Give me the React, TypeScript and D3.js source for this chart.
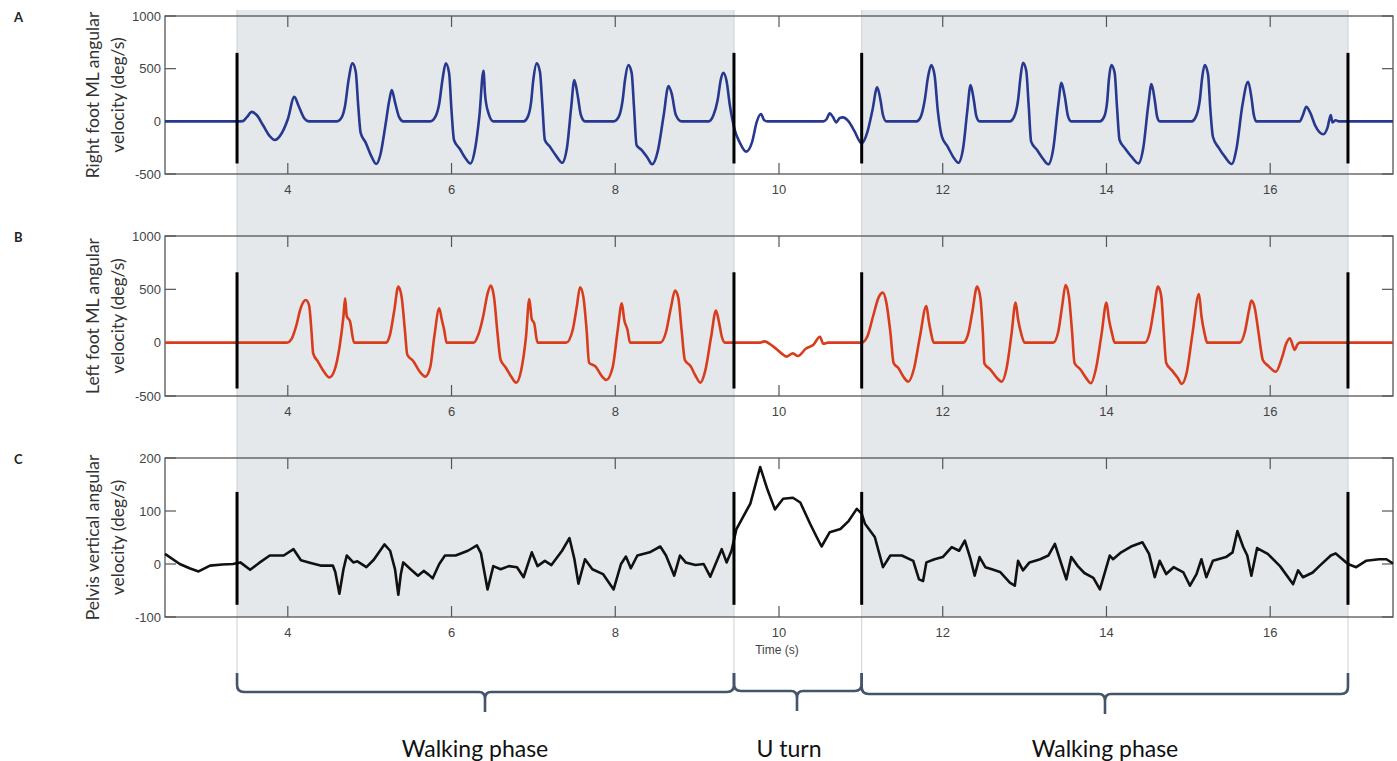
import React from "react";
import * as d3 from "d3";

// time (s), angular velocity (deg/s)
const rightFoot: [number, number][] = [
  [2.5, 0], [3.38, 0], [3.45, 2], [3.5, 40], [3.56, 90], [3.62, 60], [3.7, -40], [3.78, -140], [3.84, -177], [3.92, -120],
  [4.0, 20], [4.08, 233], [4.13, 150], [4.2, 30], [4.26, 0],
  [4.6, 0], [4.66, 40], [4.7, 150], [4.74, 380], [4.79, 550], [4.83, 470], [4.86, 150], [4.89, -110], [4.95, -200], [5.02, -330],
  [5.08, -405], [5.13, -320], [5.19, -50], [5.24, 200], [5.27, 297], [5.31, 180], [5.36, 40], [5.41, 0],
  [5.74, 0], [5.8, 40], [5.85, 170], [5.89, 400], [5.93, 550], [5.97, 460], [6.0, 100], [6.03, -177], [6.1, -260], [6.17, -350],
  [6.23, -400], [6.29, -250], [6.34, 50], [6.39, 480], [6.41, 250], [6.45, 80], [6.51, 0],
  [6.88, 0], [6.93, 40], [6.97, 170], [7.0, 400], [7.04, 550], [7.08, 470], [7.11, 150], [7.14, -177], [7.2, -240], [7.28, -330],
  [7.35, -393], [7.41, -250], [7.46, 120], [7.5, 392], [7.54, 250], [7.58, 60], [7.63, 0],
  [7.98, 0], [8.04, 40], [8.09, 200], [8.12, 400], [8.16, 534], [8.2, 460], [8.23, 120], [8.26, -225], [8.32, -270], [8.39, -340],
  [8.45, -408], [8.52, -280], [8.59, 50], [8.65, 335], [8.69, 260], [8.74, 60], [8.81, 0],
  [9.14, 0], [9.2, 60], [9.25, 200], [9.29, 400], [9.32, 461], [9.36, 380], [9.4, 150], [9.46, -83], [9.52, -200], [9.6, -288],
  [9.67, -200], [9.73, 0], [9.78, 69], [9.82, 10], [9.86, 0],
  [10.54, 0], [10.58, 20], [10.62, 76], [10.66, 40], [10.7, -10], [10.74, 30], [10.78, 38], [10.85, 0], [10.92, -90], [11.01, -209],
  [11.08, -100], [11.14, 100], [11.2, 323], [11.24, 200], [11.27, 60], [11.31, 0],
  [11.68, 0], [11.73, 40], [11.78, 200], [11.82, 420], [11.86, 534], [11.9, 440], [11.94, 100], [11.99, -146], [12.06, -240], [12.13, -340],
  [12.19, -393], [12.25, -250], [12.3, 100], [12.34, 344], [12.38, 200], [12.41, 50], [12.45, 0],
  [12.82, 0], [12.87, 40], [12.92, 200], [12.95, 420], [12.98, 556], [13.02, 480], [13.05, 150], [13.08, -193], [13.15, -270], [13.22, -350],
  [13.29, -408], [13.35, -260], [13.41, 150], [13.45, 366], [13.49, 240], [13.53, 50], [13.57, 0],
  [13.92, 0], [13.97, 40], [14.01, 200], [14.03, 400], [14.06, 534], [14.1, 460], [14.13, 120], [14.16, -177], [14.23, -260], [14.31, -340],
  [14.39, -399], [14.45, -250], [14.51, 150], [14.55, 354], [14.59, 200], [14.62, 40], [14.65, 0],
  [15.04, 0], [15.09, 40], [15.14, 200], [15.17, 420], [15.2, 534], [15.24, 450], [15.27, 100], [15.3, -146], [15.37, -250], [15.45, -340],
  [15.53, -405], [15.59, -250], [15.66, 150], [15.73, 376], [15.77, 230], [15.8, 60], [15.83, 0],
  [16.36, 0], [16.4, 60], [16.44, 139], [16.49, 80], [16.55, -40], [16.65, -123], [16.7, -60], [16.74, 60], [16.76, -10], [16.8, 10],
  [16.84, 0], [17.5, 0],
];

const leftFoot: [number, number][] = [
  [2.5, 0], [3.99, 0], [4.05, 40], [4.1, 150], [4.16, 330], [4.22, 400], [4.26, 350], [4.29, 100], [4.31, -100], [4.37, -180],
  [4.44, -270], [4.51, -325], [4.57, -260], [4.63, -50], [4.68, 250], [4.7, 416], [4.72, 250], [4.76, 200], [4.81, 0],
  [5.2, 0], [5.25, 80], [5.3, 300], [5.35, 525], [5.39, 430], [5.43, 120], [5.46, -113], [5.53, -170], [5.61, -270], [5.68, -318],
  [5.74, -230], [5.79, 60], [5.85, 322], [5.88, 220], [5.91, 120], [5.94, 0],
  [6.27, 0], [6.33, 80], [6.39, 260], [6.44, 460], [6.48, 535], [6.52, 420], [6.56, 100], [6.6, -162], [6.66, -230], [6.73, -320],
  [6.79, -375], [6.85, -260], [6.91, 60], [6.95, 410], [6.98, 220], [7.01, 180], [7.05, 0],
  [7.4, 0], [7.48, 119], [7.53, 338], [7.57, 519], [7.61, 431], [7.65, 119], [7.68, -188], [7.76, -225], [7.84, -319], [7.89, -350],
  [7.97, -225], [8.03, 119], [8.08, 369], [8.11, 213], [8.15, 119], [8.18, 0],
  [8.55, 0], [8.62, 100], [8.68, 330], [8.73, 488], [8.77, 420], [8.81, 120], [8.85, -162], [8.92, -220], [8.98, -310], [9.04, -375],
  [9.1, -260], [9.17, 50], [9.23, 300], [9.27, 180], [9.3, 60], [9.34, 0],
  [9.77, 0], [9.82, 12], [9.92, -30], [10.03, -100], [10.09, -131], [10.17, -100], [10.23, -125], [10.33, -55], [10.42, -20], [10.5, 56],
  [10.54, -10], [10.6, 0], [11.01, 0],
  [11.08, 60], [11.15, 250], [11.22, 430], [11.27, 469], [11.31, 380], [11.36, 100], [11.4, -190], [11.46, -240], [11.52, -320], [11.58, -365],
  [11.65, -240], [11.72, 50], [11.8, 344], [11.83, 200], [11.86, 80], [11.89, 0],
  [12.25, 0], [12.31, 80], [12.36, 280], [12.42, 525], [12.46, 420], [12.49, 100], [12.51, -196], [12.58, -250], [12.65, -320], [12.72, -365],
  [12.78, -240], [12.84, 80], [12.89, 375], [12.92, 220], [12.96, 80], [13.0, 0],
  [13.35, 0], [13.41, 100], [13.46, 350], [13.5, 541], [13.54, 440], [13.58, 100], [13.61, -190], [13.68, -250], [13.75, -330], [13.81, -381],
  [13.87, -250], [13.94, 80], [14.0, 375], [14.03, 220], [14.07, 80], [14.1, 0],
  [14.47, 0], [14.53, 100], [14.58, 320], [14.63, 525], [14.67, 430], [14.7, 100], [14.73, -190], [14.8, -260], [14.87, -330], [14.92, -387],
  [14.98, -280], [15.05, 80], [15.13, 456], [15.16, 250], [15.2, 80], [15.23, 0],
  [15.63, 0], [15.69, 100], [15.74, 300], [15.77, 394], [15.81, 330], [15.86, 80], [15.91, -162], [15.98, -220], [16.07, -272], [16.14, -150],
  [16.2, 0], [16.24, 41], [16.3, -68], [16.33, -20], [16.36, 0], [17.5, 0],
];

const pelvis: [number, number][] = [
  [2.5, 19], [2.68, 0], [2.8, -8], [2.91, -14], [3.05, -3], [3.2, -1], [3.33, 0], [3.42, 3], [3.54, -11], [3.65, 2],
  [3.78, 16], [3.95, 16], [4.07, 28], [4.16, 7], [4.28, 2], [4.4, -3], [4.55, -3], [4.58, -15], [4.63, -56], [4.68, -10],
  [4.72, 16], [4.8, 3], [4.85, 5], [4.96, -6], [5.05, 8], [5.18, 37], [5.25, 25], [5.31, -10], [5.35, -58], [5.38, -20],
  [5.41, 3], [5.5, -10], [5.59, -22], [5.66, -13], [5.72, -20], [5.77, -27], [5.85, 0], [5.92, 16], [6.05, 16], [6.2, 25],
  [6.31, 35], [6.36, 20], [6.44, -48], [6.51, -4], [6.6, -10], [6.7, -4], [6.8, -6], [6.88, -25], [6.98, 22], [7.05, -4],
  [7.14, 6], [7.22, -2], [7.35, 25], [7.44, 49], [7.5, 10], [7.55, -37], [7.63, 9], [7.72, -10], [7.85, -19], [7.98, -48],
  [8.07, 0], [8.13, 14], [8.19, -8], [8.27, 16], [8.42, 22], [8.55, 33], [8.62, 16], [8.72, -22], [8.79, 16], [8.86, 3],
  [8.98, -2], [9.08, 0], [9.16, -24], [9.3, 28], [9.36, 3], [9.42, 25], [9.48, 66], [9.65, 114], [9.77, 183], [9.86, 140],
  [9.95, 103], [10.05, 123], [10.17, 125], [10.26, 116], [10.38, 76], [10.46, 51], [10.52, 33], [10.62, 60], [10.75, 66], [10.85, 81],
  [10.95, 104], [11.01, 95], [11.05, 76], [11.17, 51], [11.27, -6], [11.36, 16], [11.5, 16], [11.64, 6], [11.71, -29], [11.76, -32],
  [11.8, 3], [11.9, 9], [12.0, 13], [12.11, 32], [12.2, 25], [12.27, 44], [12.34, 9], [12.39, -22], [12.45, 13], [12.52, -6],
  [12.6, -10], [12.7, -15], [12.82, -35], [12.88, -41], [12.92, 6], [12.98, -12], [13.06, 3], [13.19, 9], [13.29, 16], [13.37, 38],
  [13.43, 9], [13.51, -29], [13.57, 13], [13.65, -4], [13.73, -17], [13.84, -26], [13.92, -48], [14.04, 16], [14.08, 9], [14.18, 22],
  [14.3, 33], [14.44, 41], [14.52, 19], [14.59, -25], [14.65, 6], [14.73, -19], [14.82, -6], [14.94, -16], [15.02, -41], [15.1, -19],
  [15.16, 9], [15.22, -25], [15.3, 6], [15.46, 13], [15.54, 22], [15.6, 62], [15.67, 32], [15.72, 16], [15.77, -22], [15.84, 30],
  [15.97, 19], [16.12, -4], [16.28, -38], [16.34, -12], [16.4, -25], [16.52, -16], [16.6, -4], [16.74, 16], [16.8, 20], [16.95, 0],
  [17.05, -6], [17.17, 6], [17.33, 9], [17.42, 9], [17.5, 1],
];

const eventTimes = [3.38, 9.45, 11.01, 16.95];
const xTicks = [4, 6, 8, 10, 12, 14, 16];
const phaseNames = ["Walking phase", "U turn", "Walking phase"];
const panelLetters = ["A", "B", "C"];
const yTitles = [
  ["Right foot ML angular", "velocity (deg/s)"],
  ["Left foot ML angular", "velocity (deg/s)"],
  ["Pelvis vertical angular", "velocity (deg/s)"],
];
const yDomains: [number, number][] = [[-500, 1000], [-500, 1000], [-100, 200]];
const yTicks = [[-500, 0, 500, 1000], [-500, 0, 500, 1000], [-100, 0, 100, 200]];
const eventBars: [number, number][] = [[-400, 650], [-430, 660], [-77, 136]];

const W = 1397;
const H = 761;
const left = 165;
const right = 1393;
const panelBoxes = [
  { top: 16, bottom: 174 },
  { top: 236, bottom: 396 },
  { top: 458, bottom: 617 },
];
const series = [rightFoot, leftFoot, pelvis];
const colors = ["#27388f", "#d83c1c", "#111111"];

const tickFont = "'Liberation Sans', Arial, sans-serif";
const textFont = "Lato, 'Open Sans', sans-serif";

const App = () => {
  const x = d3.scaleLinear().domain([2.5, 17.5]).range([left, right]);
  const frame = "#555";

  const brace = (x1: number, x2: number, xm: number, yh: number) => {
    const p = d3.path();
    p.moveTo(x1, 673);
    p.lineTo(x1, yh - 7);
    p.quadraticCurveTo(x1, yh, x1 + 7, yh);
    p.lineTo(xm - 6, yh);
    p.quadraticCurveTo(xm, yh, xm, yh + 7);
    p.lineTo(xm, yh + 20);
    p.moveTo(xm, yh + 7);
    p.quadraticCurveTo(xm, yh, xm + 6, yh);
    p.lineTo(x2 - 7, yh);
    p.quadraticCurveTo(x2, yh, x2, yh - 7);
    p.lineTo(x2, 673);
    return p.toString();
  };

  const braces = [
    { a: eventTimes[0], b: eventTimes[1], tip: 485, yh: 692, label: 475 },
    { a: eventTimes[1], b: eventTimes[2], tip: 797, yh: 691, label: 789 },
    { a: eventTimes[2], b: eventTimes[3], tip: 1105, yh: 694, label: 1105 },
  ];

  return (
    <svg width={W} height={H} style={{ position: "absolute", left: 0, top: 0, background: "#fff" }}>
      {/* shaded walking phases */}
      {[[0, 1], [2, 3]].map(([i, j]) => (
        <rect key={i} x={x(eventTimes[i])} y={10} width={x(eventTimes[j]) - x(eventTimes[i])} height={607} fill="#e5e8eb" />
      ))}
      {eventTimes.map((t, i) => (
        <line key={i} x1={x(t)} x2={x(t)} y1={10} y2={673} stroke="#cdd1d6" strokeWidth={1} />
      ))}

      {panelBoxes.map((box, k) => {
        const y = d3.scaleLinear().domain(yDomains[k]).range([box.bottom, box.top]);
        const line = d3
          .line<[number, number]>()
          .x((d) => x(d[0]))
          .y((d) => y(d[1]))
          .curve(k === 2 ? d3.curveLinear : d3.curveMonotoneX);
        const midY = (box.top + box.bottom) / 2;
        return (
          <g key={k}>
            <text x={14} y={box.top + 6} fontFamily={textFont} fontWeight="bold" fontSize={13} fill="#222">
              {panelLetters[k]}
            </text>
            <text transform={`translate(99,${midY}) rotate(-90)`} textAnchor="middle" fontFamily={textFont} fontSize={17.5} fill="#333">
              <tspan x={0} dy={0}>{yTitles[k][0]}</tspan>
              <tspan x={0} dy={25}>{yTitles[k][1]}</tspan>
            </text>
            {/* frame */}
            <rect x={left} y={box.top} width={right - left} height={box.bottom - box.top} fill="none" stroke={frame} strokeWidth={1.3} />
            {xTicks.map((t) => (
              <g key={t}>
                <line x1={x(t)} x2={x(t)} y1={box.top} y2={box.top + 11} stroke={frame} strokeWidth={1.2} />
                <line x1={x(t)} x2={x(t)} y1={box.bottom} y2={box.bottom - 11} stroke={frame} strokeWidth={1.2} />
                <text x={x(t)} y={box.bottom + 20} textAnchor="middle" fontFamily={tickFont} fontSize={13} fill="#444">
                  {t}
                </text>
              </g>
            ))}
            {yTicks[k].map((v) => (
              <g key={v}>
                <line x1={left} x2={left + 11} y1={y(v)} y2={y(v)} stroke={frame} strokeWidth={1.2} />
                <line x1={right} x2={right - 11} y1={y(v)} y2={y(v)} stroke={frame} strokeWidth={1.2} />
                <text x={left - 4} y={y(v) + 4.5} textAnchor="end" fontFamily={tickFont} fontSize={13} fill="#444">
                  {v}
                </text>
              </g>
            ))}
            <path d={line(series[k]) ?? ""} fill="none" stroke={colors[k]} strokeWidth={2.6} strokeLinejoin="round" />
            {eventTimes.map((t, i) => (
              <line key={i} x1={x(t)} x2={x(t)} y1={y(eventBars[k][0])} y2={y(eventBars[k][1])} stroke="#000" strokeWidth={3} />
            ))}
          </g>
        );
      })}

      <text x={777} y={654} textAnchor="middle" fontFamily={tickFont} fontSize={12} fill="#444">
        Time (s)
      </text>

      {braces.map((b, i) => (
        <g key={i}>
          <path d={brace(x(b.a), x(b.b), b.tip, b.yh)} fill="none" stroke="#44546a" strokeWidth={2.6} strokeLinejoin="round" />
          <text x={b.label} y={757} textAnchor="middle" fontFamily={textFont} fontSize={23} fill="#111">
            {phaseNames[i]}
          </text>
        </g>
      ))}
    </svg>
  );
};

export default App;
